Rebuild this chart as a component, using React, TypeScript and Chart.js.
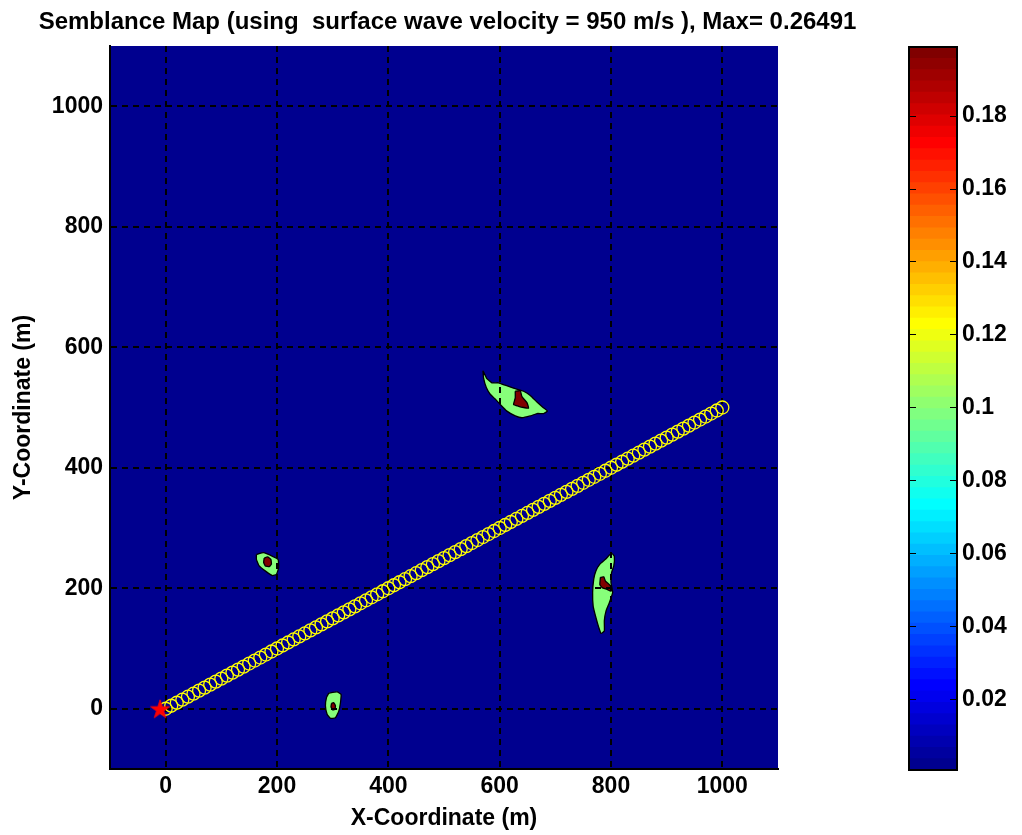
import React, { useEffect, useRef } from 'react';
import { Chart, registerables } from 'chart.js';

Chart.register(...registerables);

// ---------- text ----------
const TITLE = 'Semblance Map (using  surface wave velocity = 950 m/s ), Max= 0.26491';
const X_LABEL = 'X-Coordinate (m)';
const Y_LABEL = 'Y-Coordinate (m)';

// ---------- axes ----------
const xLimits = [-100, 1100];
const yLimits = [-100, 1100];
const xTickValues = [0, 200, 400, 600, 800, 1000];
const xTickLabels = ['0', '200', '400', '600', '800', '1000'];
const yTickValues = [0, 200, 400, 600, 800, 1000];
const yTickLabels = ['0', '200', '400', '600', '800', '1000'];

// ---------- receivers (yellow circles) ----------
const receiverX = [0, 10, 20, 30, 40, 50, 60, 70, 80, 90, 100, 110, 120, 130, 140, 150, 160, 170, 180, 190, 200, 210, 220, 230, 240, 250, 260, 270, 280, 290, 300, 310, 320, 330, 340, 350, 360, 370, 380, 390, 400, 410, 420, 430, 440, 450, 460, 470, 480, 490, 500, 510, 520, 530, 540, 550, 560, 570, 580, 590, 600, 610, 620, 630, 640, 650, 660, 670, 680, 690, 700, 710, 720, 730, 740, 750, 760, 770, 780, 790, 800, 810, 820, 830, 840, 850, 860, 870, 880, 890, 900, 910, 920, 930, 940, 950, 960, 970, 980, 990, 1000];
const receiverY = [0, 5, 10, 15, 20, 25, 30, 35, 40, 45, 50, 55, 60, 65, 70, 75, 80, 85, 90, 95, 100, 105, 110, 115, 120, 125, 130, 135, 140, 145, 150, 155, 160, 165, 170, 175, 180, 185, 190, 195, 200, 205, 210, 215, 220, 225, 230, 235, 240, 245, 250, 255, 260, 265, 270, 275, 280, 285, 290, 295, 300, 305, 310, 315, 320, 325, 330, 335, 340, 345, 350, 355, 360, 365, 370, 375, 380, 385, 390, 395, 400, 405, 410, 415, 420, 425, 430, 435, 440, 445, 450, 455, 460, 465, 470, 475, 480, 485, 490, 495, 500];

// ---------- source (red star) ----------
const sourceX = [-10];
const sourceY = [0];

// ---------- semblance contours: 0.1 level (green) ----------
const zone1X = [570, 577, 586, 598, 610, 625, 643, 655, 667, 678, 686, 679, 667, 655, 640, 628, 613, 601, 592, 583, 576, 571];
const zone1Y = [561, 548, 541, 541, 537, 532, 527, 520, 509, 500, 494, 490, 490, 486, 483, 486, 494, 505, 514, 522, 533, 549];
const zone2X = [163, 176, 192, 202, 203, 199, 192, 180, 168, 163];
const zone2Y = [256, 259, 253, 248, 234, 223, 221, 228, 237, 248];
const zone3X = [293, 308, 315, 314, 311, 305, 296, 290, 287, 289];
const zone3Y = [26, 28, 24, 10, -4, -15, -16, -9, 5, 19];
const zone4X = [802, 806, 805, 801, 800, 803, 797, 791, 788, 788, 782, 778, 773, 768, 767, 769, 773, 780, 790, 798];
const zone4Y = [258, 253, 237, 226, 209, 193, 176, 162, 146, 129, 125, 135, 151, 170, 193, 215, 229, 240, 248, 256];

// ---------- semblance contours: peak level (dark red) ----------
const peak1X = [628, 637, 640, 649, 652, 643, 634, 625, 628];
const peak1Y = [527, 528, 518, 508, 499, 500, 502, 505, 516];
const peak2X = [177, 183, 189, 190, 186, 179, 176];
const peak2Y = [250, 252, 248, 240, 236, 237, 243];
const peak3X = [298, 302, 305, 304, 300, 297];
const peak3Y = [9, 10, 5, -1, -2, 3];
const peak4X = [781, 787, 790, 799, 800, 793, 784, 780];
const peak4Y = [218, 219, 212, 204, 195, 198, 201, 206];

// ---------- colorbar ----------
const colorbarLimits = [0.0006, 0.1988];
const colorbarTickValues = [0.02, 0.04, 0.06, 0.08, 0.1, 0.12, 0.14, 0.16, 0.18];
const colorbarTickLabels = ['0.02', '0.04', '0.06', '0.08', '0.1', '0.12', '0.14', '0.16', '0.18'];
const colorbarLevels = 64;

// ---------- styles ----------
const FONT_FAMILY = "'Liberation Sans', Arial, Helvetica, sans-serif";
const BG_COLOR = 'rgb(0,0,143)';
const ZONE_COLOR = 'rgb(135,255,122)';
const PEAK_COLOR = 'rgb(128,0,0)';

function jet(m: number): string[] {
  const n = Math.ceil(m / 4);
  const u: number[] = [];
  for (let i = 1; i <= n; i++) u.push(i / n);
  for (let i = 1; i < n; i++) u.push(1);
  for (let i = n; i >= 1; i--) u.push(i / n);
  const g0 = Math.ceil(n / 2) - (m % 4 === 1 ? 1 : 0);
  const J = Array.from({ length: m }, () => [0, 0, 0]);
  for (let k = 0; k < u.length; k++) {
    const gi = g0 + k + 1;
    const ri = gi + n;
    const bi = gi - n;
    if (gi >= 1 && gi <= m) J[gi - 1][1] = u[k];
    if (ri >= 1 && ri <= m) J[ri - 1][0] = u[k];
    if (bi >= 1 && bi <= m) J[bi - 1][2] = u[k];
  }
  return J.map(([r, g, b]) => `rgb(${Math.round(r * 255)},${Math.round(g * 255)},${Math.round(b * 255)})`);
}

function polygon(xs: number[], ys: number[]) {
  const pts = xs.map((x, i) => ({ x, y: ys[i] }));
  pts.push({ ...pts[0] });
  return pts;
}

function makeStar(): HTMLCanvasElement {
  const c = document.createElement('canvas');
  c.width = 22;
  c.height = 22;
  const ctx = c.getContext('2d')!;
  const R = 10;
  const r = R * 0.382;
  ctx.beginPath();
  for (let i = 0; i < 10; i++) {
    const rad = i % 2 === 0 ? R : r;
    const a = -Math.PI / 2 + (i * Math.PI) / 5;
    const px = 11 + rad * Math.cos(a);
    const py = 12 + rad * Math.sin(a);
    if (i === 0) ctx.moveTo(px, py);
    else ctx.lineTo(px, py);
  }
  ctx.closePath();
  ctx.fillStyle = '#ff0000';
  ctx.fill();
  ctx.strokeStyle = '#ff0000';
  ctx.lineWidth = 0.8;
  ctx.stroke();
  return c;
}

const tickFont = { family: FONT_FAMILY, size: 23, weight: 'bold' as const, lineHeight: 1.2 };

// index of the last contour dataset drawn (datasets are painted from the last index to the first)
const LAST_CONTOUR_INDEX = 2;

export default function App() {
  const mainRef = useRef<HTMLCanvasElement>(null);
  const cbRef = useRef<HTMLCanvasElement>(null);

  useEffect(() => {
    const star = makeStar();

    const plotBackground = {
      id: 'plotBackground',
      beforeDatasetsDraw(chart: any) {
        const { ctx, chartArea } = chart;
        ctx.save();
        ctx.fillStyle = BG_COLOR;
        ctx.fillRect(chartArea.left, chartArea.top, chartArea.right - chartArea.left, chartArea.bottom - chartArea.top);
        ctx.restore();
      },
      // grid lines over the contour patches, beneath the receivers and the source
      afterDatasetDraw(chart: any, args: any) {
        if (args.index !== LAST_CONTOUR_INDEX) return;
        chart.scales.x.drawGrid(chart.chartArea);
        chart.scales.y.drawGrid(chart.chartArea);
      },
    };

    const zoneDs = (xs: number[], ys: number[], color: string) => ({
      type: 'line' as const,
      data: polygon(xs, ys),
      fill: 'shape',
      backgroundColor: color,
      borderColor: '#000000',
      borderWidth: 1.3,
      pointRadius: 0,
      tension: 0.12,
      capBezierPoints: false,
      clip: false,
    });

    // grid layer sits beneath the plot background; it is repainted by the plugin above
    const gridOpts = { color: '#000', lineWidth: 2, drawTicks: false, z: -1 };
    const borderOpts = { display: true, color: '#000', width: 2, dash: [6, 5], z: 1 };

    const main = new Chart(mainRef.current!, {
      type: 'scatter',
      data: {
        datasets: [
          {
            type: 'scatter',
            data: sourceX.map((x, i) => ({ x, y: sourceY[i] })),
            pointStyle: star as any,
            pointRadius: 9,
            showLine: false,
          } as any,
          {
            type: 'scatter',
            data: receiverX.map((x, i) => ({ x, y: receiverY[i] })),
            pointStyle: 'circle',
            pointRadius: 6.5,
            pointBorderWidth: 1.3,
            pointBorderColor: '#ffff00',
            pointBackgroundColor: 'rgba(0,0,0,0)',
            showLine: false,
          },
          zoneDs(peak1X, peak1Y, PEAK_COLOR),
          zoneDs(peak2X, peak2Y, PEAK_COLOR),
          zoneDs(peak3X, peak3Y, PEAK_COLOR),
          zoneDs(peak4X, peak4Y, PEAK_COLOR),
          zoneDs(zone1X, zone1Y, ZONE_COLOR),
          zoneDs(zone2X, zone2Y, ZONE_COLOR),
          zoneDs(zone3X, zone3Y, ZONE_COLOR),
          zoneDs(zone4X, zone4Y, ZONE_COLOR),
        ] as any,
      },
      options: {
        responsive: false,
        animation: false,
        events: [],
        layout: { padding: { left: 0, right: 0, top: 0, bottom: 0 } },
        plugins: {
          legend: { display: false },
          tooltip: { enabled: false },
          title: {
            display: true,
            text: TITLE,
            color: '#000',
            font: { family: FONT_FAMILY, size: 24, weight: 'bold', lineHeight: 1.2 },
            padding: { top: 7.5, bottom: 9.7 },
          },
        },
        scales: {
          x: {
            type: 'linear',
            position: 'bottom',
            min: xLimits[0],
            max: xLimits[1],
            afterBuildTicks: (s: any) => {
              s.ticks = xTickValues.map((value) => ({ value }));
            },
            afterFit: (s: any) => {
              s.height = 66;
            },
            ticks: {
              color: '#000',
              font: tickFont,
              padding: 4,
              maxRotation: 0,
              autoSkip: false,
              callback: (v: any) => xTickLabels[xTickValues.indexOf(Number(v))] ?? '',
            },
            grid: gridOpts,
            border: borderOpts,
            title: {
              display: true,
              text: X_LABEL,
              color: '#000',
              font: tickFont,
              padding: { top: 0, bottom: 3 },
            },
          },
          y: {
            type: 'linear',
            position: 'left',
            min: yLimits[0],
            max: yLimits[1],
            afterBuildTicks: (s: any) => {
              s.ticks = yTickValues.map((value) => ({ value }));
            },
            afterFit: (s: any) => {
              s.width = 110;
            },
            ticks: {
              color: '#000',
              font: tickFont,
              padding: 7,
              autoSkip: false,
              callback: (v: any) => yTickLabels[yTickValues.indexOf(Number(v))] ?? '',
            },
            grid: gridOpts,
            border: borderOpts,
            title: {
              display: true,
              text: Y_LABEL,
              color: '#000',
              font: tickFont,
              padding: { top: 10, bottom: 0 },
            },
          },
          yRight: {
            type: 'linear',
            position: 'right',
            min: yLimits[0],
            max: yLimits[1],
            afterFit: (s: any) => {
              s.width = 117;
            },
            ticks: { display: false },
            grid: { display: false, drawTicks: false },
            border: { display: false },
          },
        },
      } as any,
      plugins: [plotBackground],
    });

    // colorbar
    const colors = jet(colorbarLevels);
    const [cMin, cMax] = colorbarLimits;
    const step = (cMax - cMin) / colorbarLevels;
    const cbFrame = {
      id: 'cbFrame',
      afterDatasetsDraw(chart: any) {
        const { ctx, chartArea: a } = chart;
        const ys = chart.scales.y;
        ctx.save();
        ctx.strokeStyle = '#000';
        ctx.lineWidth = 1;
        ctx.beginPath();
        for (const v of colorbarTickValues) {
          const py = Math.round(ys.getPixelForValue(v)) + 0.5;
          ctx.moveTo(a.left, py);
          ctx.lineTo(a.left + 7, py);
          ctx.moveTo(a.right - 7, py);
          ctx.lineTo(a.right, py);
        }
        ctx.stroke();
        ctx.lineWidth = 2;
        ctx.strokeRect(a.left, a.top, a.right - a.left, a.bottom - a.top);
        ctx.restore();
      },
    };
    const cb = new Chart(cbRef.current!, {
      type: 'bar',
      data: {
        labels: [''],
        datasets: colors.map((c, i) => ({
          data: [[cMin + i * step - (i > 0 ? step * 0.4 : 0), cMin + (i + 1) * step]],
          backgroundColor: c,
          borderWidth: 0,
          barPercentage: 1,
          categoryPercentage: 1,
          grouped: false,
        })) as any,
      },
      options: {
        responsive: false,
        animation: false,
        events: [],
        layout: { padding: { left: 14, right: 0, top: 47, bottom: 65 } },
        plugins: { legend: { display: false }, tooltip: { enabled: false }, title: { display: false } },
        scales: {
          x: { display: false },
          y: {
            position: 'right',
            min: cMin,
            max: cMax,
            afterBuildTicks: (s: any) => {
              s.ticks = colorbarTickValues.map((value) => ({ value }));
            },
            afterFit: (s: any) => {
              s.width = 65;
            },
            ticks: {
              color: '#000',
              font: tickFont,
              padding: 5,
              autoSkip: false,
              callback: (v: any) => colorbarTickLabels[colorbarTickValues.indexOf(Number(v))] ?? '',
            },
            grid: { display: false, drawTicks: false },
            border: { display: false },
          },
        },
      } as any,
      plugins: [cbFrame],
    });

    return () => {
      main.destroy();
      cb.destroy();
    };
  }, []);

  return (
    <div style={{ position: 'absolute', left: 0, top: 0, width: 1022, height: 835, background: '#fff' }}>
      <canvas ref={mainRef} width={895} height={835} style={{ position: 'absolute', left: 0, top: 0, width: 895, height: 835 }} />
      <canvas ref={cbRef} width={127} height={835} style={{ position: 'absolute', left: 895, top: 0, width: 127, height: 835 }} />
    </div>
  );
}
